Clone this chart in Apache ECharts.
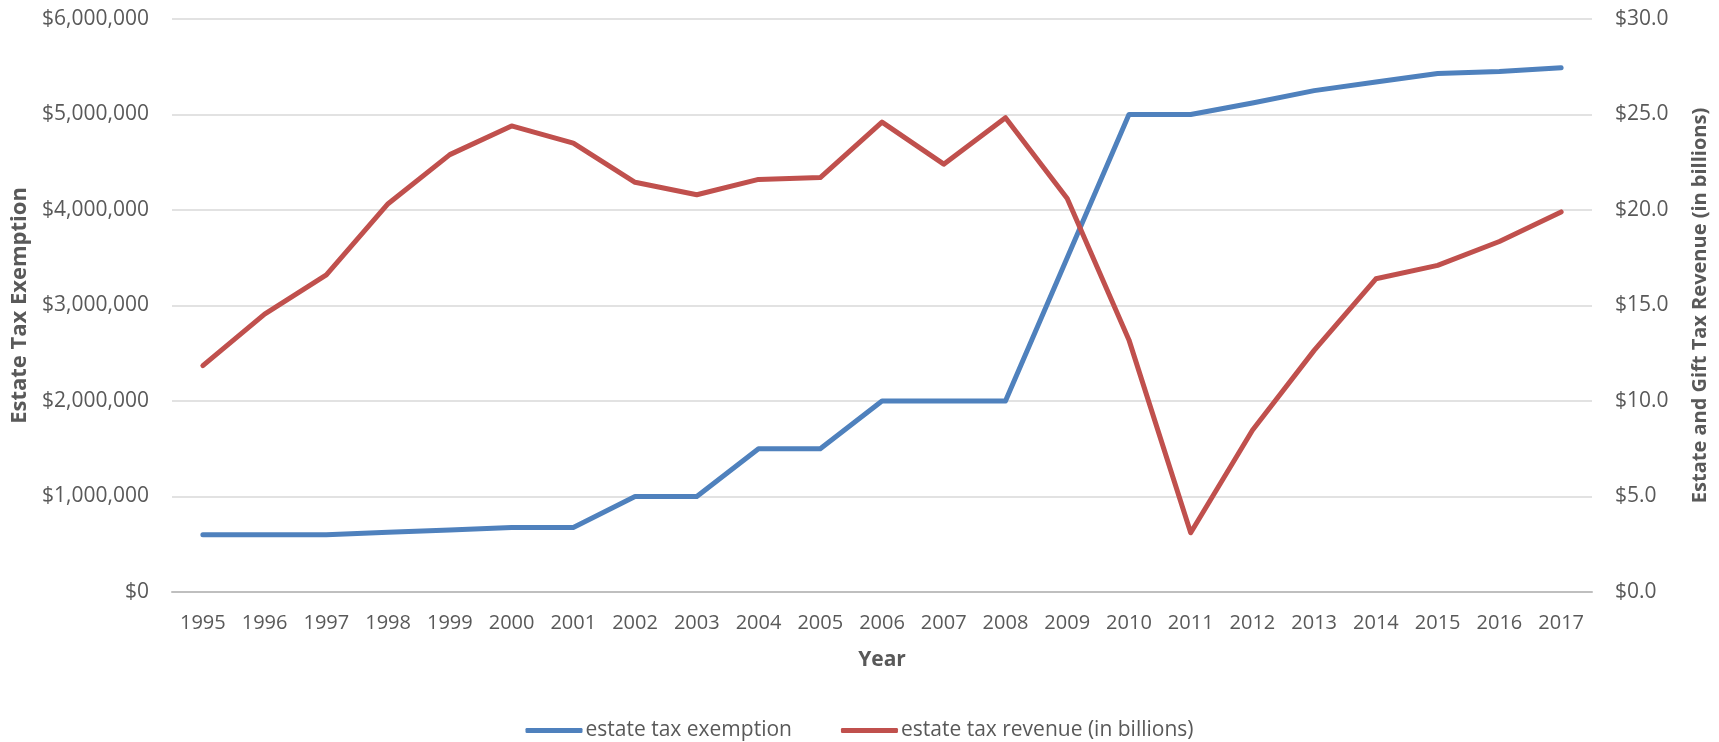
<!DOCTYPE html>
<html>
<head>
<meta charset="utf-8">
<script src="https://cdn.jsdelivr.net/npm/echarts@6/dist/echarts.min.js"></script>
<style>
  html, body { margin: 0; padding: 0; background: #ffffff; }
  #chart { width: 1719px; height: 742px; }
</style>
</head>
<body>
<div id="chart"></div>
<script>
const years = ['1995','1996','1997','1998','1999','2000','2001','2002','2003','2004','2005','2006','2007','2008','2009','2010','2011','2012','2013','2014','2015','2016','2017'];
const exemption = [600000,600000,600000,625000,650000,675000,675000,1000000,1000000,1500000,1500000,2000000,2000000,2000000,3500000,5000000,5000000,5120000,5250000,5340000,5430000,5450000,5490000];
const revenue = [11.85,14.55,16.6,20.33,22.9,24.4,23.5,21.45,20.8,21.6,21.7,24.6,22.4,24.83,20.6,13.2,3.1,8.47,12.65,16.4,17.1,18.35,19.9];
const leftName = 'Estate Tax Exemption';
const rightName = 'Estate and Gift Tax Revenue (in billions)';
const xName = 'Year';
const seriesNames = ['estate tax exemption', 'estate tax revenue (in billions)'];

const FONT = '"Open Sans", "Liberation Sans", sans-serif';
const GRAY = '#595959';

const chart = echarts.init(document.getElementById('chart'), null, { renderer: 'canvas' });
chart.setOption({
  animation: false,
  backgroundColor: '#ffffff',
  textStyle: { fontFamily: FONT },
  grid: { left: 172, right: 127, top: 19, bottom: 150, containLabel: false },
  legend: {
    left: 'center',
    top: 715,
    icon: 'roundRect',
    itemWidth: 57,
    itemHeight: 5,
    itemGap: 49,
    textStyle: { fontFamily: FONT, fontSize: 21, color: GRAY, padding: [0, 0, 0, -2] },
    data: seriesNames
  },
  xAxis: {
    type: 'category',
    data: years,
    boundaryGap: true,
    name: xName,
    nameLocation: 'middle',
    nameGap: 58,
    nameTextStyle: { fontFamily: FONT, fontSize: 21, fontWeight: 'bold', color: GRAY },
    axisLine: { lineStyle: { color: '#BFBFBF', width: 2 } },
    axisTick: { show: false },
    axisLabel: { fontFamily: FONT, fontSize: 20, color: GRAY, margin: 21, interval: 0 },
    splitLine: { show: false }
  },
  yAxis: [
    {
      type: 'value',
      min: 0, max: 6000000, interval: 1000000,
      name: leftName,
      nameLocation: 'middle',
      nameGap: 141,
      nameRotate: 90,
      nameTextStyle: { fontFamily: FONT, fontSize: 22, fontWeight: 'bold', color: GRAY },
      axisLine: { show: false },
      axisTick: { show: false },
      axisLabel: {
        fontFamily: FONT, fontSize: 21, color: GRAY, margin: 23,
        formatter: v => '$' + v.toLocaleString('en-US')
      },
      splitLine: { lineStyle: { color: '#D9D9D9', width: 1.5 } }
    },
    {
      type: 'value',
      min: 0, max: 30, interval: 5,
      name: rightName,
      nameLocation: 'middle',
      nameGap: 98,
      nameRotate: 90,
      nameTextStyle: { fontFamily: FONT, fontSize: 20, fontWeight: 'bold', color: GRAY },
      axisLine: { show: false },
      axisTick: { show: false },
      axisLabel: {
        fontFamily: FONT, fontSize: 21, color: GRAY, margin: 23,
        formatter: v => '$' + v.toFixed(1)
      },
      splitLine: { show: false }
    }
  ],
  series: [
    {
      name: seriesNames[0],
      type: 'line',
      yAxisIndex: 0,
      data: exemption,
      showSymbol: false,
      symbol: 'none',
      color: '#4F81BD',
      lineStyle: { color: '#4F81BD', width: 5, cap: 'round', join: 'round' }
    },
    {
      name: seriesNames[1],
      type: 'line',
      yAxisIndex: 1,
      data: revenue,
      showSymbol: false,
      symbol: 'none',
      color: '#C0504D',
      lineStyle: { color: '#C0504D', width: 5, cap: 'round', join: 'round' }
    }
  ]
});
</script>
</body>
</html>
